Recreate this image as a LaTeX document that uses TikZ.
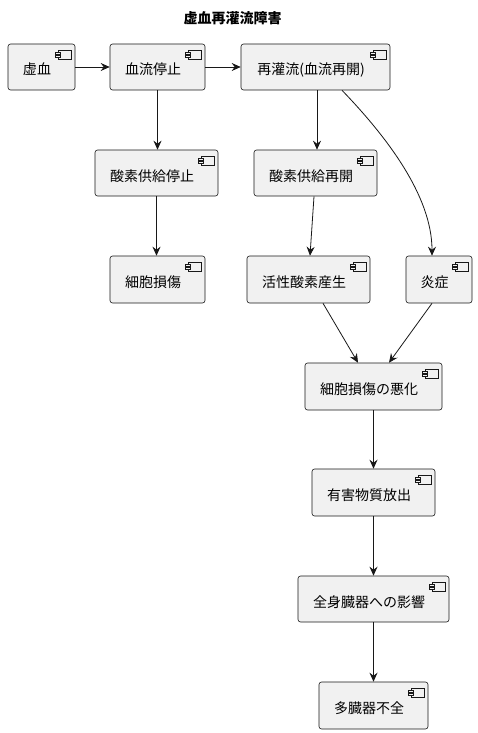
\documentclass[tikz,border=0pt]{standalone}
\usepackage{fontspec}
\setmainfont{Noto Sans CJK JP}
\usetikzlibrary{arrows.meta}
\definecolor{boxfill}{HTML}{F1F1F1}
\definecolor{boxline}{HTML}{181818}
\tikzset{
  comp/.style={draw=boxline, line width=0.6pt, fill=boxfill, rounded corners=2.5pt,
    minimum height=46pt, inner sep=0pt, font=\fontsize{14pt}{16pt}\selectfont,
    text height=0.8em+10pt, text depth=0.2em,
    execute at end node={\hspace*{9pt}},
    path picture={
      \draw[boxline, line width=0.5pt, fill=boxfill, sharp corners]
        ([xshift=-17pt,yshift=-6pt]path picture bounding box.north east) rectangle
        ([xshift=-4pt,yshift=-15pt]path picture bounding box.north east);
      \draw[boxline, line width=0.5pt, fill=boxfill, sharp corners]
        ([xshift=-20pt,yshift=-8pt]path picture bounding box.north east) rectangle ++(5pt,-2pt);
      \draw[boxline, line width=0.5pt, fill=boxfill, sharp corners]
        ([xshift=-20pt,yshift=-11.5pt]path picture bounding box.north east) rectangle ++(5pt,-2pt);
    }},
  conn/.style={draw=boxline, line width=0.8pt, -{Stealth[length=9pt,width=8pt,inset=3pt]}}
}
\begin{document}
\begin{tikzpicture}[x=1pt,y=-1pt]
\useasboundingbox (0,0) rectangle (478,733);
\node[font=\bfseries\fontsize{14pt}{16pt}\selectfont] (title) at (232.5,18) {虚血再灌流障害};
\node[comp, minimum width=67pt]  (isch)  at (41.5,67) {虚血};
\node[comp, minimum width=95pt]  (stop)  at (157.5,67) {血流停止};
\node[comp, minimum width=149pt] (rep)   at (315.5,67) {再灌流(血流再開)};
\node[comp, minimum width=123pt] (o2stop) at (156.5,173) {酸素供給停止};
\node[comp, minimum width=123pt] (o2re)  at (315.5,173) {酸素供給再開};
\node[comp, minimum width=95pt, minimum height=47pt]  (dmg)   at (157.5,279.5) {細胞損傷};
\node[comp, minimum width=123pt, minimum height=47pt] (ros)   at (308.5,279.5) {活性酸素産生};
\node[comp, minimum width=66pt, minimum height=47pt]  (infl)  at (439,279.5) {炎症};
\node[comp, minimum width=137pt, minimum height=47pt] (worse) at (373.5,386.5) {細胞損傷の悪化};
\node[comp, minimum width=123pt, minimum height=47pt] (tox)   at (373.5,492.5) {有害物質放出};
\node[comp, minimum width=151pt] (sys)   at (373.5,599) {全身臓器への影響};
\node[comp, minimum width=109pt, minimum height=47pt] (mof)   at (373.5,705.5) {多臓器不全};

\draw[conn] (isch.east) -- (stop.west);
\draw[conn] (stop.east) -- (rep.west);
\draw[conn] (stop.south) -- (o2stop.north -| stop.south);
\draw[conn] ([xshift=1.5pt]rep.south) -- ([xshift=1.5pt]o2re.north);
\draw[conn] ([xshift=26.5pt]rep.south) .. controls (385,135) and (432,195) .. ([xshift=-7pt]infl.north);
\draw[conn] (o2stop.south) -- (o2stop.south |- dmg.north);
\draw[conn] ([xshift=-1.5pt]o2re.south) -- ([xshift=1.5pt]ros.north);
\draw[conn] ([xshift=14.5pt]ros.south) -- ([xshift=-15.5pt]worse.north);
\draw[conn] ([xshift=-7pt]infl.south) -- ([xshift=15.5pt]worse.north);
\draw[conn] (worse.south) -- (tox.north);
\draw[conn] (tox.south) -- (sys.north);
\draw[conn] (sys.south) -- (mof.north);
\end{tikzpicture}
\end{document}
